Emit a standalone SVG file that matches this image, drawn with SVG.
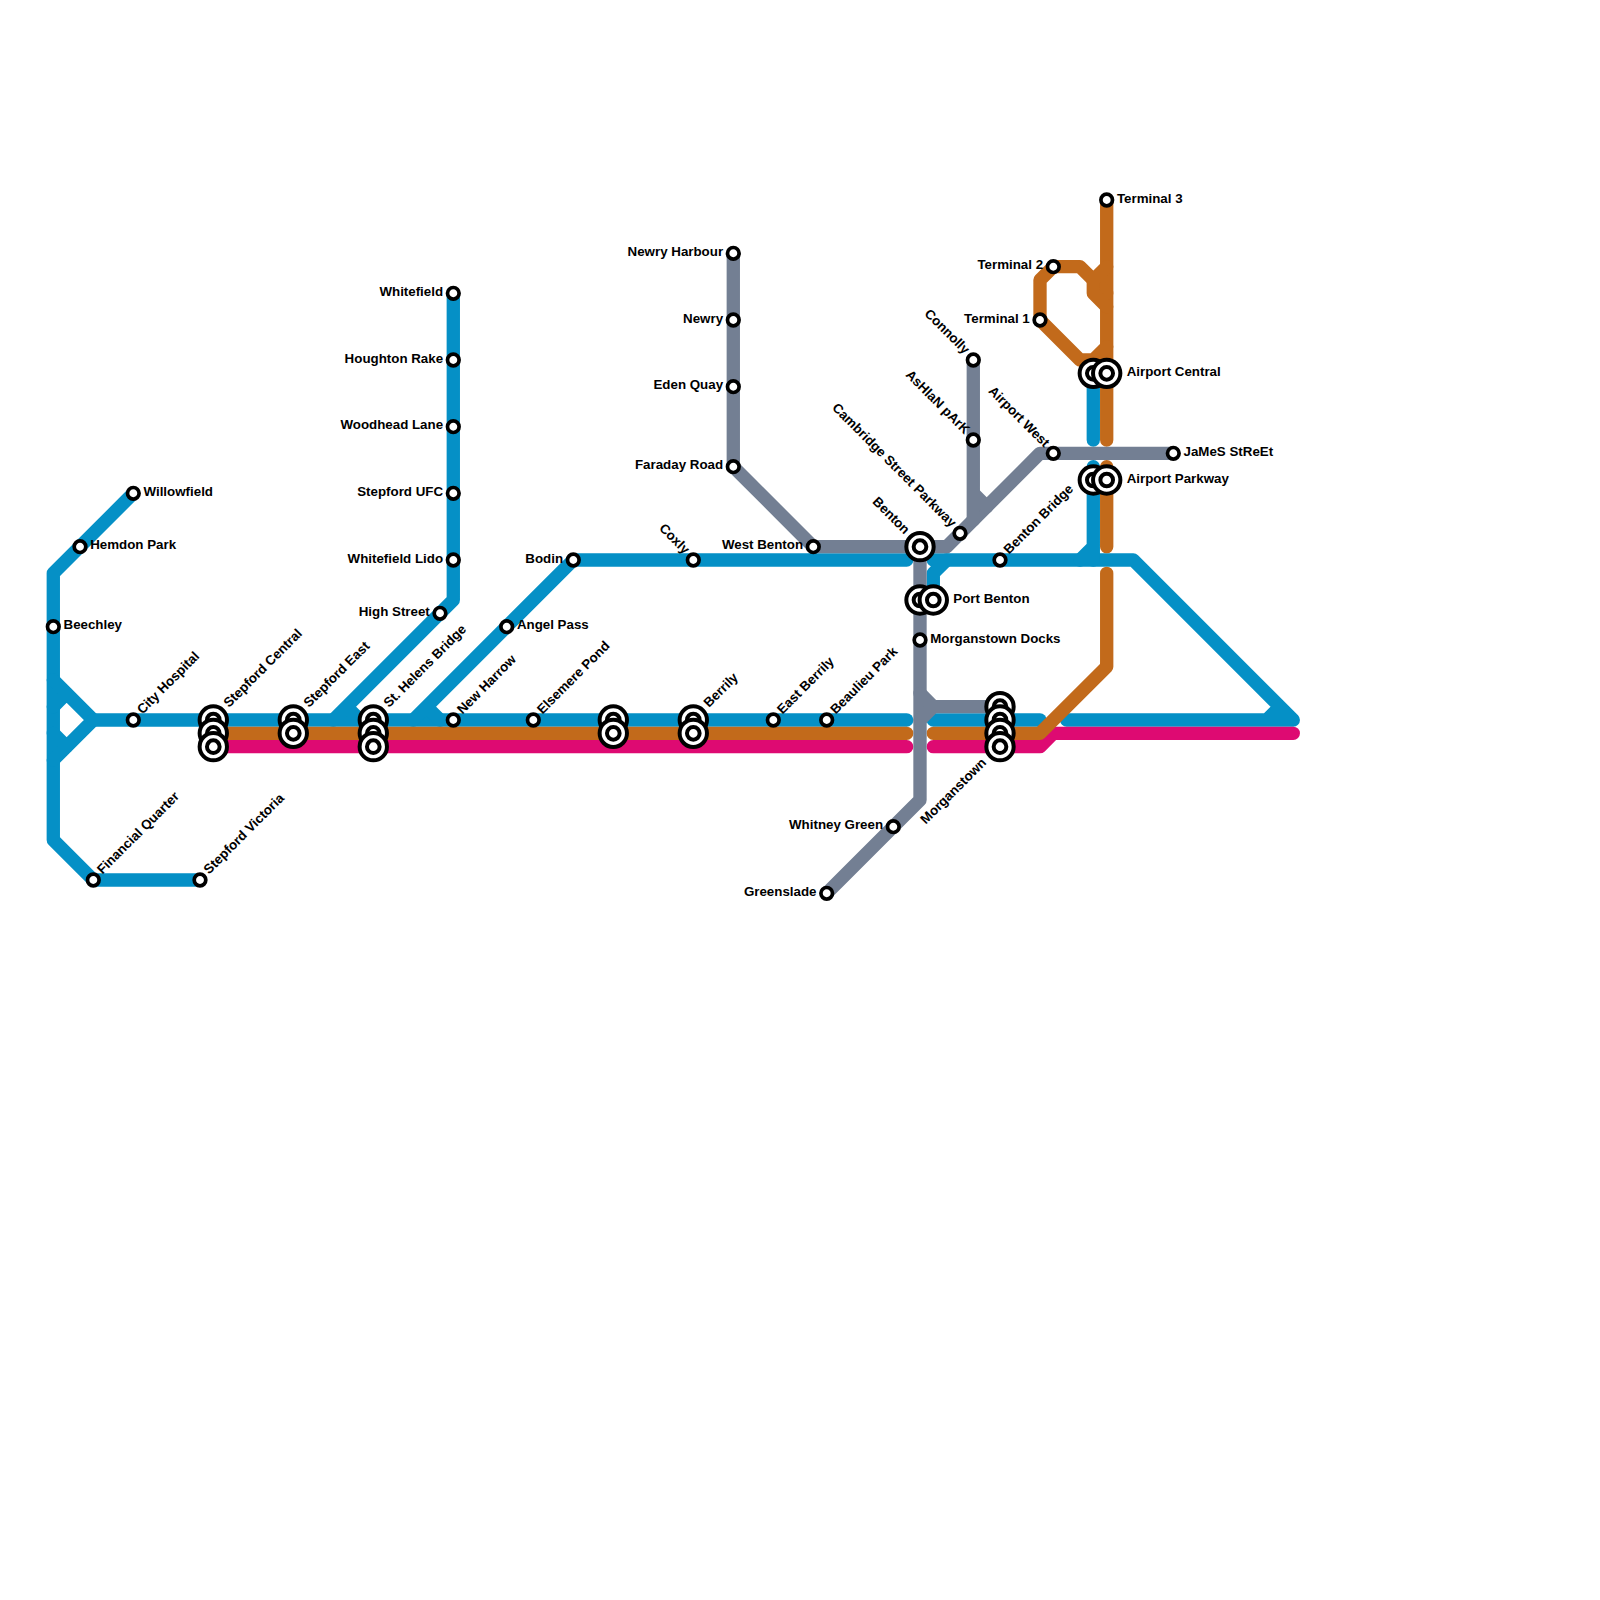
<svg xmlns="http://www.w3.org/2000/svg" width="1600" height="1600" viewBox="0 0 1600 1600">
<style>
.l{fill:none;stroke-width:13.33;stroke-linecap:round;stroke-linejoin:round}
.b{stroke:#0590c6}.o{stroke:#c26a1b}.p{stroke:#de0a72}.g{stroke:#737f93}
.s{fill:#fff;stroke:#000;stroke-width:3.7}
.k{fill:#fff;stroke:#000;stroke-width:4}
.t{font-family:"Liberation Sans",Arial,sans-serif;font-size:13.33px;font-weight:700;fill:#000}
.e{text-anchor:end}
</style>
<defs>
<g id="st"><circle class="s" r="5.8"/></g>
<g id="ic"><circle class="k" r="13.67"/><circle class="k" r="6.33"/></g>
</defs>
<rect width="1600" height="1600" fill="#fff"/>
<g id="connectors">
<g class="l b">
<path d="M133.3 493.3L53.3 573.3V840L93.3 880H200"/>
<path d="M53.3 680L93.3 720L53.3 760M53.3 706.7L66.7 693.3M53.3 733.3L66.7 746.7"/>
<path d="M93.3 720H906.7"/>
<path d="M453.3 293.3V600L333.3 720M346.7 706.7L360 720"/>
<path d="M906.7 560H573.3L413.3 720M426.7 706.7L440 720"/>
<path d="M933.3 720H1040"/>
<path d="M1066.7 720H1293.3L1133.3 560H933.3M1266.7 720L1280 706.7"/>
<path d="M933.3 600V573.3L946.7 560"/>
<path d="M1093.3 373.3V440M1093.3 466.7V560M1080 560L1093.3 546.7"/>
</g>
<g class="l p">
<path d="M213.3 746.7H906.7M933.3 746.7H1040L1053.3 733.3H1293.3"/>
</g>
<g class="l o">
<path d="M213.3 733.3H906.7M933.3 733.3H1040L1106.7 666.7V573.3"/>
<path d="M1106.7 546.7V466.7M1106.7 440V200"/>
<path d="M1106.7 346.7L1093.3 360H1080L1040 320V280L1053.3 266.7H1080L1106.7 293.3"/>
<path d="M1093.3 280L1106.7 266.7M1093.3 280V293.3L1106.7 306.7"/>
</g>
<g class="l g">
<path d="M733.3 253.3V466.7L813.3 546.7H946.7L1040 453.3H1173.3"/>
<path d="M973.3 360V520M973.3 493.3L986.7 506.7"/>
<path d="M920 546.7V800L826.7 893.3"/>
<path d="M920 693.3L933.3 706.7H1000M920 720L933.3 706.7"/>
</g>
</g>
<g id="n-willowfield"><use href="#st" x="133.3" y="493.3"/><text class="t" x="143.5" y="495.9">Willowfield</text></g>
<g id="n-hemdon"><use href="#st" x="80" y="546.7"/><text class="t" x="90.2" y="549.3">Hemdon Park</text></g>
<g id="n-beechley"><use href="#st" x="53.3" y="626.7"/><text class="t" x="63.5" y="629.3">Beechley</text></g>
<g id="n-cityhospital"><use href="#st" x="133.3" y="720"/><text class="t" transform="translate(133.3 720) rotate(-45)" x="10.2" y="2.7">City Hospital</text></g>
<g id="n-financial"><use href="#st" x="93.3" y="880"/><text class="t" transform="translate(93.3 880) rotate(-45)" x="10.2" y="2.7">Financial Quarter</text></g>
<g id="n-victoria"><use href="#st" x="200" y="880"/><text class="t" transform="translate(200 880) rotate(-45)" x="10.2" y="2.7">Stepford Victoria</text></g>
<g id="n-central"><use href="#ic" x="213.3" y="720"/><use href="#ic" x="213.3" y="733.3"/><use href="#ic" x="213.3" y="746.7"/><text class="t" transform="translate(213.3 720) rotate(-45)" x="19.5" y="2.7">Stepford Central</text></g>
<g id="n-east"><use href="#ic" x="293.3" y="720"/><use href="#ic" x="293.3" y="733.3"/><text class="t" transform="translate(293.3 720) rotate(-45)" x="19.5" y="2.7">Stepford East</text></g>
<g id="n-sthelens"><use href="#ic" x="373.3" y="720"/><use href="#ic" x="373.3" y="733.3"/><use href="#ic" x="373.3" y="746.7"/><text class="t" transform="translate(373.3 720) rotate(-45)" x="19.5" y="2.7">St. Helens Bridge</text></g>
<g id="n-newharrow"><use href="#st" x="453.3" y="720"/><text class="t" transform="translate(453.3 720) rotate(-45)" x="10.2" y="2.7">New Harrow</text></g>
<g id="n-elsemere"><use href="#st" x="533.3" y="720"/><text class="t" transform="translate(533.3 720) rotate(-45)" x="10.2" y="2.7">Elsemere Pond</text></g>
<g id="n-unnamed"><use href="#ic" x="613.3" y="720"/><use href="#ic" x="613.3" y="733.3"/></g>
<g id="n-berrily"><use href="#ic" x="693.3" y="720"/><use href="#ic" x="693.3" y="733.3"/><text class="t" transform="translate(693.3 720) rotate(-45)" x="19.5" y="2.7">Berrily</text></g>
<g id="n-eastberrily"><use href="#st" x="773.3" y="720"/><text class="t" transform="translate(773.3 720) rotate(-45)" x="10.2" y="2.7">East Berrily</text></g>
<g id="n-beaulieu"><use href="#st" x="826.7" y="720"/><text class="t" transform="translate(826.7 720) rotate(-45)" x="10.2" y="2.7">Beaulieu Park</text></g>
<g id="n-whitefield"><use href="#st" x="453.3" y="293.3"/><text class="t e" x="443.1" y="295.9">Whitefield</text></g>
<g id="n-houghton"><use href="#st" x="453.3" y="360"/><text class="t e" x="443.1" y="362.6">Houghton Rake</text></g>
<g id="n-woodhead"><use href="#st" x="453.3" y="426.7"/><text class="t e" x="443.1" y="429.3">Woodhead Lane</text></g>
<g id="n-ufc"><use href="#st" x="453.3" y="493.3"/><text class="t e" x="443.1" y="495.9">Stepford UFC</text></g>
<g id="n-lido"><use href="#st" x="453.3" y="560"/><text class="t e" x="443.1" y="562.6">Whitefield Lido</text></g>
<g id="n-highstreet"><use href="#st" x="440" y="613.3"/><text class="t e" x="429.8" y="615.9">High Street</text></g>
<g id="n-angelpass"><use href="#st" x="506.7" y="626.7"/><text class="t" x="516.9" y="629.3">Angel Pass</text></g>
<g id="n-bodin"><use href="#st" x="573.3" y="560"/><text class="t e" x="563.1" y="562.6">Bodin</text></g>
<g id="n-coxly"><use href="#st" x="693.3" y="560"/><text class="t e" transform="translate(693.3 560) rotate(45)" x="-10.2" y="2.7">Coxly</text></g>
<g id="n-newryharbour"><use href="#st" x="733.3" y="253.3"/><text class="t e" x="723.1" y="255.9">Newry Harbour</text></g>
<g id="n-newry"><use href="#st" x="733.3" y="320"/><text class="t e" x="723.1" y="322.6">Newry</text></g>
<g id="n-eden"><use href="#st" x="733.3" y="386.7"/><text class="t e" x="723.1" y="389.3">Eden Quay</text></g>
<g id="n-faraday"><use href="#st" x="733.3" y="466.7"/><text class="t e" x="723.1" y="469.3">Faraday Road</text></g>
<g id="n-westbenton"><use href="#st" x="813.3" y="546.7"/><text class="t e" x="803.1" y="549.3">West Benton</text></g>
<g id="n-benton"><use href="#ic" x="920" y="546.7"/><text class="t e" transform="translate(920 546.7) rotate(45)" x="-19.5" y="2.7">Benton</text></g>
<g id="n-portbenton"><use href="#ic" x="920" y="600"/><use href="#ic" x="933.3" y="600"/><text class="t" x="953.3" y="602.6">Port Benton</text></g>
<g id="n-docks"><use href="#st" x="920" y="640"/><text class="t" x="930.2" y="642.6">Morganstown Docks</text></g>
<g id="n-whitney"><use href="#st" x="893.3" y="826.7"/><text class="t e" x="883.1" y="829.3">Whitney Green</text></g>
<g id="n-greenslade"><use href="#st" x="826.7" y="893.3"/><text class="t e" x="816.5" y="895.9">Greenslade</text></g>
<g id="n-cambridge"><use href="#st" x="960" y="533.3"/><text class="t e" transform="translate(960 533.3) rotate(45)" x="-10.2" y="2.7">Cambridge Street Parkway</text></g>
<g id="n-ashlan"><use href="#st" x="973.3" y="440"/><text class="t e" transform="translate(973.3 440) rotate(45)" x="-10.2" y="2.7">AsHlaN pArK</text></g>
<g id="n-connolly"><use href="#st" x="973.3" y="360"/><text class="t e" transform="translate(973.3 360) rotate(45)" x="-10.2" y="2.7">Connolly</text></g>
<g id="n-airportwest"><use href="#st" x="1053.3" y="453.3"/><text class="t e" transform="translate(1053.3 453.3) rotate(45)" x="-10.2" y="2.7">Airport West</text></g>
<g id="n-james"><use href="#st" x="1173.3" y="453.3"/><text class="t" x="1183.5" y="455.9">JaMeS StReEt</text></g>
<g id="n-bentonbridge"><use href="#st" x="1000" y="560"/><text class="t" transform="translate(1000 560) rotate(-45)" x="10.2" y="2.7">Benton Bridge</text></g>
<g id="n-terminal3"><use href="#st" x="1106.7" y="200"/><text class="t" x="1116.9" y="202.6">Terminal 3</text></g>
<g id="n-terminal2"><use href="#st" x="1053.3" y="266.7"/><text class="t e" x="1043.1" y="269.3">Terminal 2</text></g>
<g id="n-terminal1"><use href="#st" x="1040" y="320"/><text class="t e" x="1029.8" y="322.6">Terminal 1</text></g>
<g id="n-airportcentral"><use href="#ic" x="1093.3" y="373.3"/><use href="#ic" x="1106.7" y="373.3"/><text class="t" x="1126.7" y="375.9">Airport Central</text></g>
<g id="n-airportparkway"><use href="#ic" x="1093.3" y="480"/><use href="#ic" x="1106.7" y="480"/><text class="t" x="1126.7" y="482.6">Airport Parkway</text></g>
<g id="n-morganstown"><use href="#ic" x="1000" y="706.7"/><use href="#ic" x="1000" y="720"/><use href="#ic" x="1000" y="733.3"/><use href="#ic" x="1000" y="746.7"/><text class="t e" transform="translate(1000 746.7) rotate(-45)" x="-21" y="2.7">Morganstown</text></g>
</svg>
